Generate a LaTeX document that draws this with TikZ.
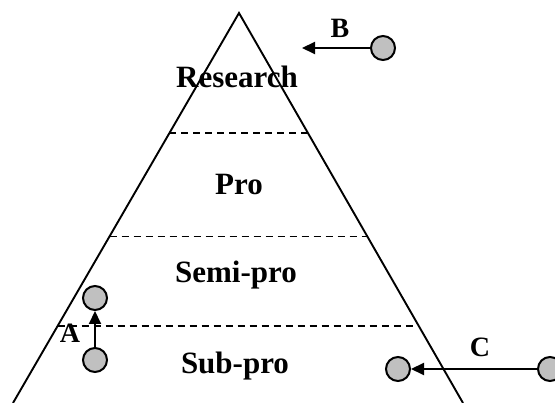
\documentclass[tikz,border=0pt]{standalone}
\usepackage{fontspec}
\setmainfont{Liberation Serif}
\usetikzlibrary{arrows.meta,calc}
\definecolor{ballgray}{HTML}{C0C0C0}
\tikzset{
  ball/.style={circle, draw, fill=ballgray, minimum size=24pt, inner sep=0pt, line width=2pt},
  tier/.style={font=\bfseries\fontsize{31}{34}\selectfont, anchor=base, inner sep=0pt},
  tag/.style={font=\bfseries\fontsize{28}{32}\selectfont, anchor=base, inner sep=0pt},
  flow/.style={-{Triangle[length=13pt,width=12pt]}, line width=2pt},
  layer/.style={line width=1.8pt, dash pattern=on 7pt off 5pt},
}

\begin{document}
\begin{tikzpicture}[x=1pt,y=-1pt]
\useasboundingbox (0,0) rectangle (555,403);
% pyramid
\coordinate (top) at (239,13);
\coordinate (bl) at (13,403);
\coordinate (br) at (463,403);
\draw[line width=1.9pt] (bl) -- (top) -- (br);
\draw[layer] ($(top)!0.3085!(bl)$) -- ($(top)!0.3085!(br)$);
\draw[layer] ($(top)!0.573!(bl)$) -- ($(top)!0.573!(br)$);
\draw[layer] ($(top)!0.802!(bl)$) -- ($(top)!0.802!(br)$);
% tiers
\node[tier] (res) at (237,88) {Research};
\node[tier] (pro) at (239,195) {Pro};
\node[tier] (semi) at (236,283) {Semi-pro};
\node[tier] (sub) at (235,374) {Sub-pro};
% moves
\node[ball] (a1) at (95,360) {};
\node[ball] (a2) at (95,298) {};
\node[ball] (b1) at (383,48) {};
\coordinate (b2) at (302,48);
\node[ball] (c1) at (550,369) {};
\node[ball] (c2) at (398,369) {};
\draw[flow] (a1) -- (a2);
\draw[flow] (b1) -- (b2);
\draw[flow] (c1) -- (c2);
\node[tag] (la) at (70,343) {A};
\node[tag] (lb) at (340,38) {B};
\node[tag] (lc) at (480,357) {C};
\end{tikzpicture}
\end{document}
